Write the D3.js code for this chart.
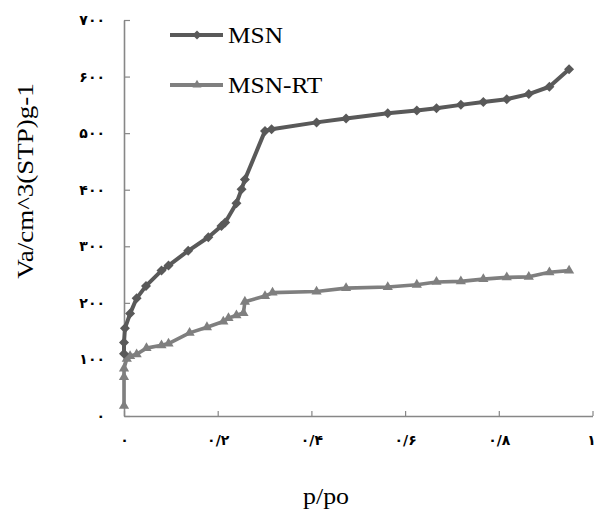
<!DOCTYPE html>
<html>
<head>
<meta charset="utf-8">
<script src="https://cdn.jsdelivr.net/npm/d3@7/dist/d3.min.js"></script>
<style>
  html, body { margin: 0; padding: 0; background: #fff; }
  svg { display: block; }
  .serif { font-family: "Liberation Serif", "Times New Roman", Times, "DejaVu Serif", serif; }
</style>
</head>
<body>
<svg id="chart" width="595" height="510"></svg>
<script>
// ---- data ----
const seriesNames = ["MSN", "MSN-RT"];
const msnX = [0.000, 0.000, 0.002, 0.013, 0.027, 0.047, 0.080, 0.095, 0.137, 0.180, 0.208, 0.216, 0.240, 0.251, 0.258, 0.301, 0.315, 0.411, 0.474, 0.563, 0.625, 0.667, 0.719, 0.767, 0.817, 0.864, 0.908, 0.950];
const msnY = [110, 130, 155, 181, 208, 230, 257, 266, 292, 316, 336, 342, 376, 401, 418, 504, 507, 519, 526, 535, 540, 544, 550, 555, 560, 569, 582, 613];
const rtX = [0.000, 0.000, 0.000, 0.006, 0.013, 0.027, 0.048, 0.080, 0.095, 0.140, 0.177, 0.212, 0.223, 0.240, 0.255, 0.258, 0.301, 0.317, 0.411, 0.474, 0.563, 0.625, 0.667, 0.719, 0.767, 0.817, 0.864, 0.908, 0.950];
const rtY = [18, 69, 84, 101, 106, 109, 120, 125, 128, 147, 157, 167, 173, 178, 182, 202, 212, 218, 220, 226, 228, 232, 237, 238, 242, 245, 246, 254, 257];
const xTicks = [0, 0.2, 0.4, 0.6, 0.8, 1];
const xTickLabels = ["۰", "۰/۲", "۰/۴", "۰/۶", "۰/۸", "۱"];
const yTicks = [0, 100, 200, 300, 400, 500, 600, 700];
const yTickLabels = ["۰", "۱۰۰", "۲۰۰", "۳۰۰", "۴۰۰", "۵۰۰", "۶۰۰", "۷۰۰"];

// ---- chart ----
const svg = d3.select("#chart");
const x = d3.scaleLinear().domain([0, 1]).range([124, 592.5]);
const y = d3.scaleLinear().domain([0, 700]).range([416, 20]);
const axisColor = "#878787";
const colors = ["#595959", "#7f7f7f"];

const xAxis = d3.axisBottom(x).tickValues(xTicks)
  .tickFormat((d, i) => xTickLabels[i]).tickSizeInner(-5).tickSizeOuter(0).tickPadding(19);
const yAxis = d3.axisLeft(y).tickValues(yTicks)
  .tickFormat((d, i) => yTickLabels[i]).tickSizeInner(-6).tickSizeOuter(0).tickPadding(19);

function styleAxis(g) {
  g.attr("font-family", null).attr("font-size", null);
  g.select(".domain").attr("stroke", axisColor).attr("stroke-width", 1.6);
  g.selectAll(".tick line").attr("stroke", axisColor).attr("stroke-width", 1.2);
  g.selectAll(".tick text").attr("fill", "#000")
    .style("font-family", "'DejaVu Sans', sans-serif")
    .style("font-size", "14px").style("font-weight", "bold");
}

const gx = svg.append("g").attr("transform", `translate(0,${y(0)})`).call(xAxis).call(styleAxis);
gx.selectAll(".tick text").filter((d, i) => i === xTicks.length - 1).attr("dx", "-1.5");
svg.append("g").attr("transform", `translate(${x(0)},0)`).call(yAxis).call(styleAxis);

const line = d3.line().x(d => x(d[0])).y(d => y(d[1]));
const msnData = msnX.map((v, i) => [v, msnY[i]]);
const rtData = rtX.map((v, i) => [v, rtY[i]]);

function drawSeries(data, color, sym, rot, width) {
  svg.append("path").datum(data).attr("d", line)
    .attr("fill", "none").attr("stroke", color).attr("stroke-width", width)
    .attr("stroke-linejoin", "round");
  svg.append("g").selectAll("path").data(data).join("path")
    .attr("transform", d => `translate(${x(d[0])},${y(d[1])}) rotate(${rot})`)
    .attr("d", sym).attr("fill", color);
}
drawSeries(rtData, colors[1], d3.symbol().type(d3.symbolTriangle).size(45), 0, 3.6);
drawSeries(msnData, colors[0], d3.symbol().type(d3.symbolSquare).size(50), 45, 4);

// legend
const legend = svg.append("g");
const legendItems = [
  { name: seriesNames[0], color: colors[0], sym: d3.symbol().type(d3.symbolSquare).size(40), rot: 45, ly: 35 },
  { name: seriesNames[1], color: colors[1], sym: d3.symbol().type(d3.symbolTriangle).size(35), rot: 0, ly: 85 }
];
legendItems.forEach(it => {
  legend.append("line").attr("x1", 170).attr("x2", 223).attr("y1", it.ly).attr("y2", it.ly)
    .attr("stroke", it.color).attr("stroke-width", 4);
  legend.append("path").attr("d", it.sym).attr("fill", it.color)
    .attr("transform", `translate(197,${it.ly}) rotate(${it.rot})`);
  legend.append("text").attr("class", "serif")
    .attr("transform", `translate(228,${it.ly + 8.3}) scale(1.08,1)`).text(it.name)
    .attr("font-size", 23.5).attr("fill", "#000");
});

// axis titles
svg.append("text").attr("class", "serif").attr("transform", "translate(326,504) scale(1.08,1)")
  .attr("text-anchor", "middle").attr("font-size", 24).text("p/po");
svg.append("text").attr("class", "serif").attr("transform", "translate(33,181) rotate(-90) scale(1.15,1)")
  .attr("text-anchor", "middle").attr("font-size", 23.5).text("Va/cm^3(STP)g-1");
</script>
</body>
</html>
